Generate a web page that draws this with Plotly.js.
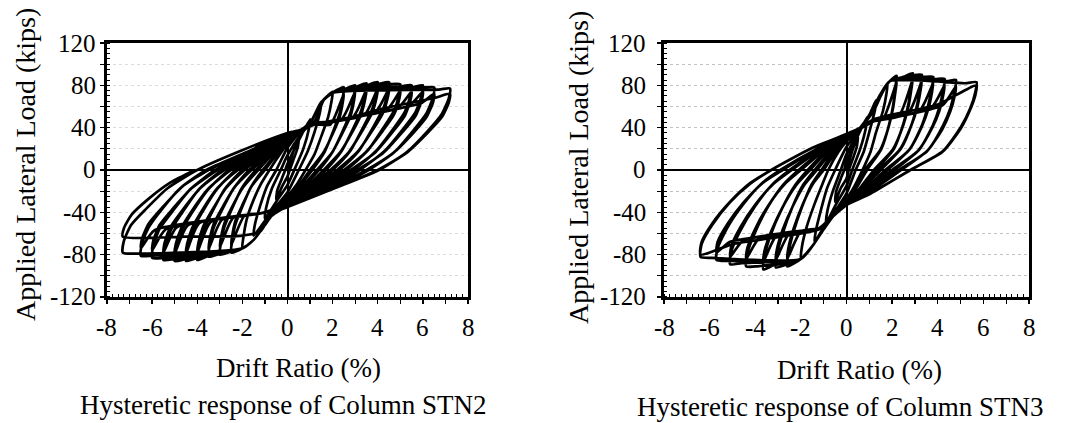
<!DOCTYPE html>
<html>
<head>
<meta charset="utf-8">
<script src="https://cdn.plot.ly/plotly-3.0.1.min.js"></script>
<style>
  html, body { margin: 0; padding: 0; background: #ffffff; }
  #chart { width: 1071px; height: 423px; }
</style>
</head>
<body>
<div id="chart"></div>
<script>
// ---- Data (drift ratio %, applied lateral load kips) ----
// Column STN2: continuous hysteresis record, [drift, load] pairs
const stn2Path = [
  [0,0],
  [0.25,17],[0.5,30],[0.45,21],[0.25,9],[0.1,0],[0,-6],[-0.25,-16],[-0.5,-28],[-0.45,-19],[-0.25,-8],[-0.1,0],[0,6],
  [0.5,28],[1.0,48],[0.95,39],[0.7,20],[0.3,0],[0,-14],[-0.5,-30],[-1.0,-46],[-0.95,-36],[-0.7,-18],[-0.3,0],[0,14],
  [0.6,34],[1.0,44],[1.5,65],[1.45,56],[1.2,36],[0.9,18],[0.5,0],[0,-21],[-0.6,-37],[-1.0,-48],[-1.5,-62],[-1.45,-52],[-1.2,-33],[-0.9,-15],[-0.5,0],[0,21],
  [0.6,37],[1.2,46],[1.6,66],[2.0,74],[1.95,65],[1.8,50],[1.5,32],[1.2,15],[0.8,0],[0.4,-14],[0,-25],[-0.6,-40],[-1.0,-52],[-1.5,-66],[-2.0,-74],[-1.95,-63],[-1.8,-46],[-1.5,-28],[-1.2,-14],[-0.8,0],[-0.4,13],[0,25],
  [0.6,38],[1.0,44],[1.5,64],[2.0,73],[2.5,78],[2.45,69],[2.32,54],[2.05,38],[1.64,17],[1.1,0],[0.55,-15],[0,-28],[-0.6,-40],[-1.0,-52],[-1.5,-66],[-2.0,-74],[-2.5,-78],[-2.45,-67],[-2.32,-52],[-2.05,-37],[-1.64,-17],[-1.1,0],[-0.55,14],[0,28],
  [0.6,37],[1.2,43],[1.9,43],[2.5,72],[2.45,64],[2.31,50],[2.02,35],[1.58,16],[1.0,0],[0.5,-15],[0,-27],[-0.6,-37],[-1.2,-41],[-1.9,-43],[-2.5,-71],[-2.45,-62],[-2.31,-48],[-2.02,-34],[-1.58,-15],[-1.0,0],[-0.5,14],[0,27],
  [0.6,38],[1.0,44],[1.5,64],[2.0,73],[2.5,76],[3.0,80],[2.95,71],[2.8,55],[2.49,39],[2.02,18],[1.4,0],[0.7,-16],[0,-30],[-0.6,-40],[-1.0,-52],[-1.5,-66],[-2.0,-74],[-2.5,-77],[-3.0,-80],[-2.95,-69],[-2.8,-54],[-2.49,-38],[-2.02,-17],[-1.4,0],[-0.7,15],[0,30],
  [0.6,37],[1.2,43],[2.4,48],[3.0,74],[2.95,66],[2.79,51],[2.46,36],[1.96,16],[1.3,0],[0.65,-16],[0,-29],[-0.6,-37],[-1.2,-41],[-2.4,-45],[-3.0,-73],[-2.95,-64],[-2.79,-50],[-2.46,-35],[-1.96,-16],[-1.3,0],[-0.65,15],[0,29],
  [0.6,38],[1.0,44],[1.5,64],[2.0,73],[3.0,78],[3.5,82],[3.45,73],[3.28,57],[2.93,40],[2.4,18],[1.7,0],[0.85,-17],[0,-31],[-0.6,-40],[-1.0,-52],[-1.5,-66],[-2.0,-74],[-3.0,-79],[-3.5,-82],[-3.45,-71],[-3.28,-55],[-2.93,-39],[-2.4,-18],[-1.7,0],[-0.85,16],[0,31],
  [0.6,37],[1.2,43],[2.9,50],[3.5,76],[3.45,68],[3.27,53],[2.9,37],[2.34,17],[1.6,0],[0.8,-17],[0,-30],[-0.6,-37],[-1.2,-41],[-2.9,-47],[-3.5,-75],[-3.45,-66],[-3.27,-51],[-2.9,-36],[-2.34,-16],[-1.6,0],[-0.8,15],[0,30],
  [0.6,38],[1.0,44],[1.5,64],[2.0,73],[3.5,80],[4.0,83],[3.95,74],[3.76,58],[3.37,41],[2.78,18],[2.0,0],[1.0,-18],[0,-32],[-0.6,-40],[-1.0,-52],[-1.5,-66],[-2.0,-74],[-3.5,-81],[-4.0,-85],[-3.95,-74],[-3.76,-58],[-3.37,-41],[-2.78,-18],[-2.0,0],[-1.0,16],[0,32],
  [0.6,37],[1.2,43],[3.4,52],[4.0,77],[3.95,69],[3.75,54],[3.34,38],[2.72,17],[1.9,0],[0.95,-17],[0,-31],[-0.6,-37],[-1.2,-41],[-3.4,-49],[-4.0,-78],[-3.95,-69],[-3.75,-54],[-3.34,-38],[-2.72,-17],[-1.9,0],[-0.95,16],[0,31],
  [0.6,38],[1.0,44],[1.5,64],[2.0,73],[4.0,81],[4.5,83],[4.45,74],[4.24,58],[3.81,41],[3.16,18],[2.3,0],[1.15,-18],[0,-33],[-0.6,-40],[-1.0,-52],[-1.5,-66],[-2.0,-74],[-4.0,-83],[-4.5,-86],[-4.45,-75],[-4.24,-58],[-3.81,-41],[-3.16,-19],[-2.3,0],[-1.15,17],[0,33],
  [0.6,37],[1.2,43],[3.9,55],[4.5,77],[4.45,69],[4.23,54],[3.78,38],[3.1,17],[2.2,0],[1.1,-18],[0,-32],[-0.6,-37],[-1.2,-41],[-3.9,-50],[-4.5,-79],[-4.45,-70],[-4.23,-55],[-3.78,-38],[-3.1,-17],[-2.2,0],[-1.1,16],[0,32],
  [0.6,38],[1.0,44],[1.5,64],[2.0,73],[4.5,81],[5.0,81],[4.95,72],[4.72,56],[4.25,40],[3.54,18],[2.6,0],[1.3,-18],[0,-33],[-0.6,-40],[-1.0,-52],[-1.5,-66],[-2.0,-74],[-4.5,-84],[-5.0,-86],[-4.95,-75],[-4.72,-58],[-4.25,-41],[-3.54,-19],[-2.6,0],[-1.3,17],[0,33],
  [0.6,37],[1.2,43],[4.4,57],[5.0,75],[4.95,67],[4.71,52],[4.22,37],[3.48,17],[2.5,0],[1.25,-18],[0,-32],[-0.6,-37],[-1.2,-41],[-4.4,-52],[-5.0,-79],[-4.95,-70],[-4.71,-55],[-4.22,-38],[-3.48,-17],[-2.5,0],[-1.25,16],[0,32],
  [0.6,38],[1.0,44],[1.5,64],[2.0,73],[5.0,79],[5.5,80],[5.45,71],[5.2,55],[4.69,39],[3.92,18],[2.9,0],[1.45,-19],[0,-34],[-0.6,-40],[-1.0,-52],[-1.5,-66],[-2.0,-74],[-5.0,-84],[-5.5,-85],[-5.45,-74],[-5.2,-58],[-4.69,-41],[-3.92,-18],[-2.9,0],[-1.45,17],[0,34],
  [0.6,37],[1.2,43],[4.9,59],[5.5,74],[5.45,66],[5.19,51],[4.66,36],[3.86,16],[2.8,0],[1.4,-19],[0,-33],[-0.6,-37],[-1.2,-41],[-4.9,-54],[-5.5,-78],[-5.45,-69],[-5.19,-54],[-4.66,-38],[-3.86,-17],[-2.8,0],[-1.4,17],[0,33],
  [0.6,38],[1.0,44],[1.5,64],[2.0,73],[5.5,78],[6.0,80],[5.95,71],[5.68,55],[5.13,39],[4.3,18],[3.2,0],[1.6,-19],[0,-34],[-0.6,-40],[-1.0,-52],[-1.5,-66],[-2.0,-74],[-5.5,-83],[-6.0,-83],[-5.95,-72],[-5.68,-56],[-5.13,-40],[-4.3,-18],[-3.2,0],[-1.6,17],[0,34],
  [0.6,37],[1.2,43],[5.4,61],[6.0,74],[5.95,66],[5.67,51],[5.1,36],[4.24,16],[3.1,0],[1.55,-19],[0,-33],[-0.6,-37],[-1.2,-41],[-5.4,-56],[-6.0,-76],[-5.95,-67],[-5.67,-52],[-5.1,-37],[-4.24,-17],[-3.1,0],[-1.55,17],[0,33],
  [0.6,38],[1.0,44],[1.5,64],[2.0,73],[6.0,78],[6.5,78],[6.45,69],[6.17,54],[5.6,38],[4.74,17],[3.6,0],[1.8,-19],[0,-35],[-0.6,-40],[-1.0,-52],[-1.5,-66],[-2.0,-74],[-6.0,-81],[-6.5,-81],[-6.45,-70],[-6.17,-55],[-5.6,-38],[-4.74,-17],[-3.6,0],[-1.8,17],[0,35],
  [0.6,37],[1.2,43],[5.9,63],[6.5,72],[6.45,64],[6.16,50],[5.57,35],[4.68,16],[3.5,0],[1.75,-19],[0,-34],[-0.6,-37],[-1.2,-41],[-5.9,-57],[-6.5,-74],[-6.45,-65],[-6.16,-51],[-5.57,-36],[-4.68,-16],[-3.5,0],[-1.75,17],[0,34],
  [0.6,38],[1.0,44],[1.5,64],[2.0,73],[6.7,76],[7.2,77],[7.15,68],[6.84,53],[6.22,37],[5.29,17],[4.05,0],[2.0,-18],[0,-35],[-0.6,-40],[-1.0,-52],[-1.5,-66],[-2.0,-74],[-6.8,-79],[-7.3,-78],[-7.25,-67],[-6.93,-52],[-6.28,-37],[-5.3,-17],[-4.0,0],[-2.2,17],[0,35],
  [0.6,38],[1.0,44],[2.2,46],[4.0,57],[6.5,68],[7.2,72],[7.15,64],[6.84,50],[6.2,35],[5.26,16],[4.0,0],[2.0,-18],[0,-34],[-0.8,-45],[-1.2,-58],[-2.0,-62],[-4.5,-63],[-7.3,-63],[-7.25,-55],[-6.9,-42],[-6.2,-28],[-5.2,-12],[-4.1,0]
];

// Column STN3: continuous hysteresis record, [drift, load] pairs
const stn3Path = [
  [0,0],
  [0.25,18],[0.5,32],[0.45,22],[0.25,9],[0.1,0],[0,-8],[-0.25,-17],[-0.5,-30],[-0.45,-20],[-0.25,-8],[-0.1,0],[0,8],
  [0.45,30],[0.9,50],[0.85,40],[0.6,20],[0.25,0],[0,-15],[-0.45,-32],[-0.9,-50],[-0.85,-40],[-0.6,-20],[-0.25,0],[0,15],
  [0.6,38],[1.0,52],[1.3,66],[1.25,57],[1.0,36],[0.75,17],[0.4,0],[0,-22],[-0.6,-42],[-1.0,-54],[-1.4,-68],[-1.35,-58],[-1.1,-36],[-0.85,-17],[-0.5,0],[0,22],
  [0.6,39],[1.2,56],[1.5,70],[1.8,82],[1.75,72],[1.6,56],[1.3,36],[1.05,17],[0.7,0],[0.25,-19],[0,-27],[-0.6,-44],[-1.0,-56],[-1.5,-72],[-2.0,-84],[-1.95,-72],[-1.75,-54],[-1.4,-32],[-1.05,-13],[-0.8,0],[-0.36,17],[0,27],
  [0.6,40],[1.0,52],[1.5,72],[1.9,84],[2.2,89],[2.15,80],[2.05,62],[1.88,44],[1.53,20],[0.9,0],[0.32,-21],[0,-30],[-0.6,-44],[-1.0,-56],[-1.5,-72],[-2.0,-84],[-2.6,-91],[-2.55,-79],[-2.33,-59],[-1.97,-36],[-1.54,-14],[-1.1,0],[-0.5,19],[0,30],
  [0.6,39],[1.2,46],[1.6,48],[2.2,83],[2.15,75],[2.04,58.5],[1.85,41],[1.48,19],[0.8,0],[0.28,-21],[0,-29],[-0.6,-43],[-1.2,-55],[-2.0,-58],[-2.6,-84],[-2.55,-74],[-2.32,-55.5],[-1.93,-33],[-1.47,-13],[-1.0,0],[-0.45,18],[0,29],
  [0.6,40],[1.0,52],[1.5,72],[1.9,84],[2.5,88],[2.9,91.5],[2.85,82],[2.73,64],[2.51,45],[2.08,20],[1.3,0],[0.46,-22],[0,-31],[-0.6,-44],[-1.0,-56],[-1.5,-72],[-2.0,-84],[-2.6,-89],[-3.1,-92],[-3.05,-80],[-2.8,-60],[-2.39,-36],[-1.9,-14],[-1.4,0],[-0.63,19],[0,31],
  [0.6,39],[1.2,46],[2.3,51.5],[2.9,85.5],[2.85,77.5],[2.72,60.5],[2.49,42.6],[2.03,19.4],[1.2,0],[0.42,-21.7],[0,-30],[-0.6,-43],[-1.2,-55],[-2.5,-60],[-3.1,-85],[-3.05,-75],[-2.79,-56],[-2.35,-34],[-1.83,-13.5],[-1.3,0],[-0.59,19],[0,30],
  [0.6,40],[1.0,52],[1.5,72],[1.9,84],[2.9,89.5],[3.3,90],[3.25,81],[3.11,63],[2.87,44],[2.38,20],[1.5,0],[0.53,-22],[0,-32],[-0.6,-44],[-1.0,-56],[-1.5,-72],[-2.0,-84],[-3.2,-90],[-3.65,-94],[-3.6,-82],[-3.32,-61],[-2.84,-37],[-2.27,-15],[-1.7,0],[-0.77,20],[0,32],
  [0.6,39],[1.2,46],[2.7,53.5],[3.3,84],[3.25,76],[3.1,59],[2.84,42],[2.33,19],[1.4,0],[0.49,-22],[0,-31],[-0.6,-43],[-1.2,-55],[-3.05,-61.5],[-3.65,-87],[-3.6,-77],[-3.3,-58],[-2.8,-35],[-2.2,-14],[-1.6,0],[-0.72,20],[0,31],
  [0.6,40],[1.0,52],[1.5,72],[1.9,84],[3.4,88],[3.8,88],[3.75,79],[3.59,62],[3.32,43],[2.78,20],[1.8,0],[0.63,-23],[0,-33],[-0.6,-44],[-1.0,-56],[-1.5,-72],[-2.0,-84],[-3.9,-91],[-4.4,-91],[-4.35,-79],[-4.01,-59],[-3.45,-35],[-2.78,-14],[-2.1,0],[-0.95,20],[0,33],
  [0.6,39],[1.2,46],[3.2,56],[3.8,82],[3.75,74],[3.59,58],[3.3,41],[2.73,18.5],[1.7,0],[0.6,-23],[0,-32],[-0.6,-43],[-1.2,-55],[-3.8,-63.8],[-4.4,-84],[-4.35,-74],[-4.0,-55.5],[-3.41,-33],[-2.7,-13],[-2.0,0],[-0.9,20],[0,32],
  [0.6,40],[1.0,52],[1.5,72],[1.9,84],[3.9,86],[4.3,86],[4.25,77],[4.08,60],[3.78,42],[3.18,19],[2.1,0],[0.74,-23],[0,-33],[-0.6,-44],[-1.0,-56],[-1.5,-72],[-2.0,-84],[-4.6,-88],[-5.1,-89],[-5.05,-77],[-4.67,-58],[-4.03,-35],[-3.27,-14],[-2.5,0],[-1.13,20],[0,33],
  [0.6,39],[1.2,46],[3.7,58.5],[4.3,80],[4.25,72],[4.07,56],[3.76,40],[3.13,18],[2.0,0],[0.7,-23],[0,-32],[-0.6,-43],[-1.2,-55],[-4.5,-66],[-5.1,-82],[-5.05,-72],[-4.65,-54],[-3.99,-32.4],[-3.2,-13],[-2.4,0],[-1.08,20],[0,32],
  [0.6,40],[1.0,52],[1.5,72],[1.9,84],[4.4,84],[4.8,85],[4.75,76],[4.56,59],[4.23,42],[3.58,19],[2.4,0],[0.84,-23],[0,-33],[-0.6,-44],[-1.0,-56],[-1.5,-72],[-2.0,-84],[-5.2,-86],[-5.7,-85],[-5.65,-74],[-5.24,-55],[-4.55,-33],[-3.73,-13],[-2.9,0],[-1.3,20],[0,33],
  [0.6,39],[1.2,46],[4.2,61],[4.8,79],[4.75,71],[4.55,55.4],[4.21,39],[3.53,17.8],[2.3,0],[0.8,-23],[0,-32],[-0.6,-43],[-1.2,-55],[-5.1,-67.7],[-5.7,-78],[-5.65,-68],[-5.22,-51],[-4.51,-30.6],[-3.66,-12],[-2.8,0],[-1.26,20],[0,32],
  [0.6,40],[1.0,52],[1.5,72],[1.9,84],[5.2,82],[5.7,83],[5.65,74],[5.42,58],[5.02,41],[4.23,18],[2.8,0],[0.98,-23],[0,-33],[-0.6,-44],[-1.0,-56],[-1.5,-72],[-2.0,-84],[-5.9,-83],[-6.4,-82],[-6.35,-70],[-5.89,-52],[-5.13,-31],[-4.22,-13],[-3.3,0],[-1.49,21],[0,34],
  [0.6,40],[1.2,48],[4.0,62],[5.7,80],[5.65,71],[5.4,56],[5.0,39],[4.2,17],[2.8,0],[1.0,-23],[0,-33],[-0.6,-44],[-1.2,-56],[-5.0,-70],[-6.4,-80],[-6.35,-68],[-5.9,-51],[-5.1,-30],[-4.2,-12],[-3.3,0]
];

// Tick values and labels
const xTickVals = [-8,-7,-6,-5,-4,-3,-2,-1,0,1,2,3,4,5,6,7,8];
const xTickText = ['-8','','-6','','-4','','-2','','0','','2','','4','','6','','8'];
const yTickVals = [-120,-100,-80,-60,-40,-20,0,20,40,60,80,100,120];
const yTickText = ['-120','','-80','','-40','','0','','40','','80','','120'];

// Text
const xTitle = 'Drift Ratio (%)';
const yTitle = 'Applied Lateral Load (kips)';
const captions = ['Hysteretic response of Column STN2', 'Hysteretic response of Column STN3'];

// ---- Figure ----
const FONT = 'Liberation Serif';
const TICK_SIZE = 25;
const TITLE_SIZE = 27;
const YTITLE_SIZE = 28;

function xAxis(domain, anchor) {
  return {
    domain: domain, anchor: anchor, range: [-8, 8], fixedrange: true,
    tickmode: 'array', tickvals: xTickVals, showticklabels: false,
    ticks: 'outside', ticklen: 4, tickwidth: 1.3, tickcolor: '#000',
    minor: { dtick: 0.25, tick0: 0, ticks: 'inside', ticklen: 3, tickwidth: 1, tickcolor: '#000', showgrid: false },
    showline: true, linecolor: '#000', linewidth: 2.6, mirror: true,
    showgrid: false,
    zeroline: true, zerolinecolor: '#000', zerolinewidth: 2
  };
}
function yAxis(domain, anchor, gridcolor) {
  return {
    domain: domain, anchor: anchor, range: [-120, 120], fixedrange: true,
    tickmode: 'array', tickvals: yTickVals, showticklabels: false,
    ticks: 'outside', ticklen: 4, tickwidth: 1.3, tickcolor: '#000',
    minor: { dtick: 5, tick0: 0, ticks: 'inside', ticklen: 3, tickwidth: 1, tickcolor: '#000', showgrid: false },
    showline: true, linecolor: '#000', linewidth: 2.6, mirror: true,
    showgrid: true, gridcolor: gridcolor, griddash: 'dot', gridwidth: 1,
    zeroline: true, zerolinecolor: '#000', zerolinewidth: 2
  };
}
// inward ticks along the top and right frame edges
function topAxis(overlay, anchor) {
  return {
    overlaying: overlay, anchor: anchor, side: 'top', range: [-8, 8], fixedrange: true,
    tickmode: 'array', tickvals: xTickVals, showticklabels: false,
    ticks: 'inside', ticklen: 5, tickwidth: 1.2, tickcolor: '#000',
    minor: { dtick: 0.25, tick0: 0, ticks: 'inside', ticklen: 3, tickwidth: 1, tickcolor: '#000', showgrid: false },
    showline: false, showgrid: false, zeroline: false
  };
}
function rightAxis(overlay, anchor) {
  return {
    overlaying: overlay, anchor: anchor, side: 'right', range: [-120, 120], fixedrange: true,
    tickmode: 'array', tickvals: yTickVals, showticklabels: false,
    ticks: 'inside', ticklen: 5, tickwidth: 1.2, tickcolor: '#000',
    minor: { dtick: 5, tick0: 0, ticks: 'inside', ticklen: 3, tickwidth: 1, tickcolor: '#000', showgrid: false },
    showline: false, showgrid: false, zeroline: false
  };
}

const lineStyle = { color: '#000', width: 2.7, shape: 'spline', smoothing: 0.6 };

const traces = [
  { type: 'scatter', mode: 'lines', name: 'STN2', xaxis: 'x', yaxis: 'y',
    x: stn2Path.map(p => p[0]), y: stn2Path.map(p => p[1]), line: lineStyle, hoverinfo: 'skip' },
  { type: 'scatter', mode: 'lines', name: 'STN3', xaxis: 'x2', yaxis: 'y2',
    x: stn3Path.map(p => p[0]), y: stn3Path.map(p => p[1]), line: lineStyle, hoverinfo: 'skip' }
];

// Tick labels placed on the axes' own scales (value coordinates)
const tickFont = { family: FONT, size: TICK_SIZE, color: '#000' };
function tickLabelAnnotations(xref, yref, yLabelRight) {
  const out = [];
  xTickVals.forEach((v, i) => {
    if (xTickText[i] !== '') out.push({ text: xTickText[i], xref: xref, yref: 'paper', x: v, y: 1 - 327/423,
      xanchor: 'center', yanchor: 'middle', showarrow: false, font: tickFont });
  });
  yTickVals.forEach((v, i) => {
    if (yTickText[i] !== '') out.push({ text: yTickText[i], xref: 'paper', yref: yref, x: yLabelRight/1071, y: v,
      xanchor: 'right', yanchor: 'middle', showarrow: false, font: tickFont });
  });
  return out;
}
const titleFont = { family: FONT, size: TITLE_SIZE, color: '#000' };

const yDom = [0.2979, 0.8983];
const layout = {
  width: 1071, height: 423,
  margin: { l: 0, r: 0, t: 0, b: 0 },
  paper_bgcolor: '#fff', plot_bgcolor: '#fff',
  showlegend: false,
  font: { family: FONT, size: TICK_SIZE, color: '#000' },
  xaxis: xAxis([0.0999, 0.4370], 'y'),
  yaxis: yAxis(yDom, 'x', '#dcdcdc'),
  xaxis2: xAxis([0.6200, 0.9608], 'y2'),
  yaxis2: yAxis(yDom, 'x2', '#c2c2c2'),
  xaxis3: topAxis('x', 'y'),
  yaxis3: rightAxis('y', 'x'),
  xaxis4: topAxis('x2', 'y2'),
  yaxis4: rightAxis('y2', 'x2'),
  annotations: [].concat(
    tickLabelAnnotations('x', 'y', 98),
    tickLabelAnnotations('x2', 'y2', 648),
    [
      { text: yTitle, textangle: -90, xref: 'paper', yref: 'paper', x: 25/1071, y: 1 - 165/423, xanchor: 'center', yanchor: 'middle', showarrow: false, font: { family: FONT, size: YTITLE_SIZE, color: '#000' } },
      { text: yTitle, textangle: -90, xref: 'paper', yref: 'paper', x: 578/1071, y: 1 - 168/423, xanchor: 'center', yanchor: 'middle', showarrow: false, font: { family: FONT, size: YTITLE_SIZE, color: '#000' } },
      { text: xTitle, xref: 'paper', yref: 'paper', x: 298/1071, y: 1 - 368/423, xanchor: 'center', yanchor: 'middle', showarrow: false, font: titleFont },
      { text: xTitle, xref: 'paper', yref: 'paper', x: 859/1071, y: 1 - 370/423, xanchor: 'center', yanchor: 'middle', showarrow: false, font: titleFont },
      { text: captions[0], xref: 'paper', yref: 'paper', x: 283/1071, y: 1 - 405/423, xanchor: 'center', yanchor: 'middle', showarrow: false, font: titleFont },
      { text: captions[1], xref: 'paper', yref: 'paper', x: 840/1071, y: 1 - 407/423, xanchor: 'center', yanchor: 'middle', showarrow: false, font: titleFont }
    ]
  )
};

Plotly.newPlot('chart', traces, layout, { staticPlot: true, displayModeBar: false });
</script>
</body>
</html>
